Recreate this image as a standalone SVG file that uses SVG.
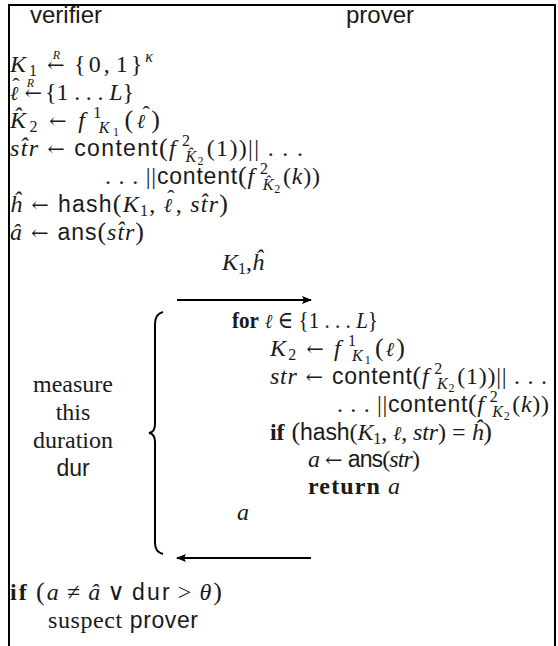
<svg xmlns="http://www.w3.org/2000/svg" width="558" height="646" viewBox="0 0 558 646">
<defs>
<style>
.m{font-family:"Liberation Serif","DejaVu Serif",serif;font-size:24px;fill:#1a1a1a}
.i{font-style:italic}
.l{font-family:"DejaVu Serif",serif;font-style:italic;font-size:20px}
.ar{font-family:"DejaVu Serif",serif;font-size:21px}
.hat{font-family:"Liberation Serif",serif;font-size:22px}
.s{font-family:"Liberation Sans","DejaVu Sans",sans-serif;font-size:23px}
.b{font-weight:bold}
.sub{font-size:16px}
.sub2{font-size:12px}
.pr{font-size:26px}
.hd{font-family:"Liberation Sans","DejaVu Sans",sans-serif;font-size:24px;fill:#1a1a1a}
.ln{stroke:#000;stroke-width:2;fill:none}
</style>
<marker id="ah" viewBox="0 0 10 8" refX="9" refY="4" markerWidth="10" markerHeight="8" markerUnits="userSpaceOnUse" orient="auto">
<path d="M0,0 L10,4 L0,8 L2,4 Z" fill="#000"/>
</marker>
</defs>
<path class="ln" d="M9,646 L9,5 L555,5 L555,646"/>
<g id="headers">
<text class="hd" x="66" y="23" text-anchor="middle">verifier</text>
<text class="hd" x="380" y="23" text-anchor="middle">prover</text>
</g>
<g id="verifier">
<text class="m" x="10" y="72" textLength="143" lengthAdjust="spacing"><tspan class="i">K</tspan><tspan class="sub" dy="4">1</tspan><tspan class="ar" dx="7" dy="-4">←</tspan><tspan class="i sub2" dx="-15" dy="-13">R</tspan><tspan dx="11" dy="13">{0,</tspan><tspan dx="3">1}</tspan><tspan class="i sub" dy="-10">κ</tspan></text>
<text class="m" x="10" y="100" textLength="124" lengthAdjust="spacing"><tspan class="l">ℓ</tspan><tspan class="hat" dx="-6" dy="-7">ˆ</tspan><tspan class="ar" dx="5" dy="7">←</tspan><tspan class="i sub2" dx="-15" dy="-13">R</tspan><tspan dx="11" dy="13">{1 . . . </tspan><tspan class="i">L</tspan><tspan>}</tspan></text>
<text class="m" x="10" y="128" textLength="150" lengthAdjust="spacing"><tspan class="i">K̂</tspan><tspan class="sub" dy="4">2</tspan><tspan class="ar" dx="8" dy="-4">←</tspan><tspan dx="8" class="i">f</tspan><tspan class="sub" dx="5" dy="-10">1</tspan><tspan class="i sub" dx="-6" dy="15">K</tspan><tspan class="sub2" dy="3">1</tspan><tspan class="pr" dx="2" dy="-8">(</tspan><tspan class="l">ℓ</tspan><tspan class="hat" dx="-6" dy="-7">ˆ</tspan><tspan class="pr" dx="-2" dy="7">)</tspan></text>
<text class="m" x="10" y="156" textLength="293" lengthAdjust="spacing"><tspan class="i">st̂r</tspan><tspan class="ar" dx="8">←</tspan><tspan dx="8" class="s">content</tspan><tspan class="pr">(</tspan><tspan class="i">f</tspan><tspan class="sub" dx="5" dy="-10">2</tspan><tspan class="i sub" dx="-6" dy="16">K̂</tspan><tspan class="sub2" dy="3">2</tspan><tspan dx="2" dy="-9">(1))|| . . .</tspan></text>
<text class="m" x="105" y="184" textLength="215" lengthAdjust="spacing"><tspan>. . . ||</tspan><tspan class="s">content</tspan><tspan class="pr">(</tspan><tspan class="i">f</tspan><tspan class="sub" dx="5" dy="-10">2</tspan><tspan class="i sub" dx="-6" dy="16">K̂</tspan><tspan class="sub2" dy="3">2</tspan><tspan dx="2" dy="-9">(</tspan><tspan class="i">k</tspan><tspan>))</tspan></text>
<text class="m" x="10" y="212" textLength="218" lengthAdjust="spacing"><tspan class="i">ĥ</tspan><tspan class="ar" dx="8">←</tspan><tspan dx="8" class="s">hash</tspan><tspan class="pr">(</tspan><tspan class="i">K</tspan><tspan class="sub" dy="4">1</tspan><tspan dy="-4">, </tspan><tspan class="l">ℓ</tspan><tspan class="hat" dx="-6" dy="-7">ˆ</tspan><tspan dy="7">, </tspan><tspan class="i">st̂r</tspan><tspan class="pr">)</tspan></text>
<text class="m" x="10" y="240" textLength="134" lengthAdjust="spacing"><tspan class="i">â</tspan><tspan class="ar" dx="8">←</tspan><tspan dx="8" class="s">ans</tspan><tspan class="pr">(</tspan><tspan class="i">st̂r</tspan><tspan class="pr">)</tspan></text>
</g>
<g id="measure">
<text class="m" x="73" y="392" text-anchor="middle">measure</text>
<text class="m" x="73" y="420" text-anchor="middle">this</text>
<text class="m" x="73" y="448" text-anchor="middle">duration</text>
<text class="s" x="73" y="476" text-anchor="middle" fill="#1a1a1a">dur</text>
<path class="ln" stroke-width="2.5" d="M163,312 Q155,314 155,324 L155,424 Q155,432 149,433 Q155,434 155,442 L155,543 Q155,552 163,554"/>
</g>
<g id="prover">
<text class="m" x="232" y="328" textLength="146" lengthAdjust="spacingAndGlyphs"><tspan class="b">for</tspan><tspan dx="7" class="l">ℓ</tspan><tspan dx="6">∈</tspan><tspan dx="6">{1 . . . </tspan><tspan class="i">L</tspan><tspan>}</tspan></text>
<text class="m" x="270" y="356" textLength="135" lengthAdjust="spacing"><tspan class="i">K</tspan><tspan class="sub" dy="4">2</tspan><tspan class="ar" dx="8" dy="-4">←</tspan><tspan dx="8" class="i">f</tspan><tspan class="sub" dx="5" dy="-10">1</tspan><tspan class="i sub" dx="-6" dy="15">K</tspan><tspan class="sub2" dy="3">1</tspan><tspan class="pr" dx="2" dy="-8">(</tspan><tspan class="l">ℓ</tspan><tspan class="pr">)</tspan></text>
<text class="m" x="270" y="384" textLength="277" lengthAdjust="spacing"><tspan class="i">str</tspan><tspan class="ar" dx="8">←</tspan><tspan dx="8" class="s">content</tspan><tspan class="pr">(</tspan><tspan class="i">f</tspan><tspan class="sub" dx="5" dy="-10">2</tspan><tspan class="i sub" dx="-6" dy="15">K</tspan><tspan class="sub2" dy="3">2</tspan><tspan dx="2" dy="-8">(1))|| . . .</tspan></text>
<text class="m" x="549" y="412" text-anchor="end" textLength="212" lengthAdjust="spacing"><tspan>. . . ||</tspan><tspan class="s">content</tspan><tspan class="pr">(</tspan><tspan class="i">f</tspan><tspan class="sub" dx="5" dy="-10">2</tspan><tspan class="i sub" dx="-6" dy="15">K</tspan><tspan class="sub2" dy="3">2</tspan><tspan dx="2" dy="-8">(</tspan><tspan class="i">k</tspan><tspan>))</tspan></text>
<text class="m" x="270" y="440" textLength="222" lengthAdjust="spacing"><tspan class="b">if</tspan><tspan class="pr" dx="7">(</tspan><tspan class="s">hash</tspan><tspan>(</tspan><tspan class="i">K</tspan><tspan class="sub" dy="4">1</tspan><tspan dy="-4">, </tspan><tspan class="l">ℓ</tspan><tspan>, </tspan><tspan class="i">str</tspan><tspan>)</tspan><tspan dx="6">=</tspan><tspan dx="6" class="i">ĥ</tspan><tspan class="pr">)</tspan></text>
<text class="m" x="308" y="467" textLength="112" lengthAdjust="spacing"><tspan class="i">a</tspan><tspan class="ar" dx="6">←</tspan><tspan dx="6" class="s">ans</tspan><tspan>(</tspan><tspan class="i">str</tspan><tspan>)</tspan></text>
<text class="m" x="308" y="494" textLength="92" lengthAdjust="spacing"><tspan class="b">return</tspan><tspan dx="7" class="i">a</tspan></text>
</g>
<g id="connectors">
<line class="ln" x1="177" y1="300" x2="311" y2="300" marker-end="url(#ah)"/>
<text class="m" x="222" y="270"><tspan class="i">K</tspan><tspan class="sub" dy="4">1</tspan><tspan dy="-4">,</tspan><tspan class="i">ĥ</tspan></text>
<line class="ln" x1="311" y1="558" x2="177" y2="558" marker-end="url(#ah)"/>
<text class="m i" x="237" y="520">a</text>
</g>
<g id="conclusion">
<text class="m" x="10" y="600" textLength="212" lengthAdjust="spacing"><tspan class="b">if</tspan><tspan class="pr" dx="7">(</tspan><tspan class="i">a</tspan><tspan dx="6">≠</tspan><tspan dx="6" class="i">â</tspan><tspan dx="5">∨</tspan><tspan dx="5" class="s">dur</tspan><tspan dx="6">&gt;</tspan><tspan dx="6" class="i">θ</tspan><tspan class="pr">)</tspan></text>
<text class="m" x="48" y="628" textLength="150" lengthAdjust="spacing"><tspan>suspect</tspan><tspan dx="7" class="s">prover</tspan></text>
</g>
</svg>
